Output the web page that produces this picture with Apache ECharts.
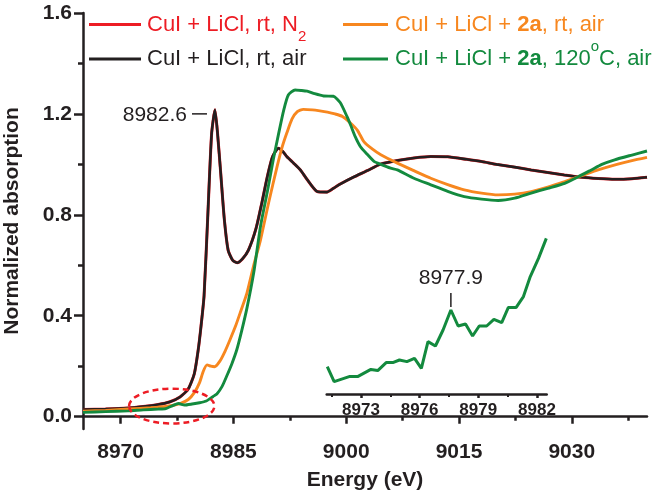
<!DOCTYPE html>
<html><head><meta charset="utf-8">
<script src="https://cdn.jsdelivr.net/npm/echarts@6/dist/echarts.min.js"></script>
<style>html,body{margin:0;padding:0;background:#fff}#c{width:660px;height:493px}</style>
</head><body><div id="c"></div>
<script>
// ---- data ----
const blackE = [8965,8968,8971,8973,8975,8976.5,8977.9,8979.0,8979.8,8980.3,8980.7,8981.1,8981.6,8982.1,8982.55,8982.9,8983.3,8983.8,8984.3,8984.9,8985.5,8986.2,8987.0,8988.0,8988.8,8989.5,8990.2,8991.0,8991.6,8992.1,8993.0,8993.9,8994.8,8996.1,8997.4,8998.3,8999.2,9001,9002.8,9004.5,9006.8,9009,9011.25,9013.5,9016,9018,9020,9022.4,9024.6,9026.8,9029,9031.3,9033.5,9035.7,9038,9040];
const blackV = [0.028,0.030,0.034,0.040,0.048,0.058,0.078,0.11,0.17,0.26,0.36,0.48,0.80,1.12,1.216,1.12,0.97,0.78,0.66,0.62,0.61,0.625,0.66,0.745,0.85,0.95,1.03,1.064,1.05,1.031,1.005,0.978,0.94,0.893,0.89,0.905,0.922,0.95,0.975,1.0,1.015,1.025,1.031,1.03,1.02,1.011,1.0,0.989,0.978,0.968,0.958,0.949,0.944,0.941,0.943,0.949];
const redE = blackE.slice();
const redV = blackV.slice();
const orangeE = [8965,8968,8971,8974,8976,8977.9,8979,8979.8,8980.5,8981.0,8981.5,8982.0,8982.5,8983.2,8983.9,8984.55,8985.3,8986,8986.8,8987.7,8988.6,8989.7,8990.8,8991.5,8992.1,8992.8,8993.5,8994.3,8995.5,8996.5,8997.5,8998.5,8999.5,9000.6,9001.5,9002.35,9003.5,9004.6,9006.8,9009,9011.25,9013.5,9015.7,9018,9020.2,9022.4,9024.6,9026.8,9029.05,9031.3,9033.5,9036,9038,9040];
const orangeV = [0.022,0.025,0.030,0.035,0.040,0.052,0.068,0.095,0.135,0.18,0.205,0.20,0.198,0.22,0.26,0.305,0.36,0.42,0.49,0.60,0.70,0.85,0.99,1.07,1.124,1.18,1.209,1.218,1.216,1.212,1.207,1.20,1.19,1.163,1.135,1.09,1.06,1.038,1.005,0.975,0.945,0.92,0.899,0.886,0.879,0.882,0.892,0.91,0.932,0.955,0.978,1.0,1.015,1.028];
const greenE = [8965,8968,8971,8973,8975,8976,8977.0,8977.7,8978.5,8979.5,8980.5,8981.4,8982.3,8982.8,8983.5,8984.1,8984.8,8985.45,8986.1,8986.8,8987.7,8988.6,8989.5,8990.3,8991.0,8991.7,8992.3,8993.2,8994.0,8994.8,8995.8,8997.0,8998.3,8999.2,9000.1,9000.6,9001.2,9001.9,9002.8,9003.7,9004.6,9005.9,9006.8,9009,9011.25,9013.5,9015.7,9018,9020.2,9022.4,9024.6,9026.8,9029.05,9030.8,9032.6,9034,9035.7,9038,9040];
const greenV = [0.017,0.020,0.023,0.027,0.030,0.032,0.045,0.052,0.046,0.05,0.055,0.062,0.08,0.09,0.12,0.16,0.21,0.265,0.34,0.43,0.57,0.754,0.89,1.018,1.12,1.216,1.275,1.295,1.293,1.29,1.28,1.271,1.27,1.245,1.19,1.155,1.11,1.07,1.04,1.012,1.0,0.985,0.978,0.945,0.919,0.893,0.872,0.862,0.857,0.866,0.886,0.905,0.925,0.95,0.978,1.0,1.018,1.037,1.053];
const insetE = [8971.28,8971.63,8972.40,8972.83,8973.51,8973.86,8974.29,8974.63,8974.97,8975.35,8975.74,8976.09,8976.43,8976.81,8977.2,8977.6,8977.97,8978.35,8978.71,8979.05,8979.43,8979.8,8980.2,8980.54,8980.94,8981.31,8981.66,8982.08,8982.48];
const insetV = [0.0237,0.0162,0.0187,0.0187,0.0223,0.0217,0.0257,0.0257,0.027,0.0262,0.0278,0.0228,0.0362,0.034,0.042,0.052,0.044,0.045,0.039,0.044,0.044,0.0473,0.0457,0.0533,0.0533,0.0587,0.0687,0.0778,0.0878];
const xMajorTicks = [8970,8985,9000,9015,9030];
const xMinorTicks = [8977.5,8992.5,9007.5,9022.5,9037.5];
const yMajorTicks = [0,0.4,0.8,1.2,1.6];
const yMinorTicks = [0.2,0.6,1.0,1.4];
const insetMajorTicks = [8973,8976,8979,8982];
const insetMinorTicks = [8971.5,8974.5,8977.5,8980.5];
const mainPeak = [8982.55,1.216];
const mainPeakLabel = '8982.6';
const insetPeak = [8977.6,0.052];
const insetPeakLabel = '8977.9';
const ellipseCenter = [8976.8,0.042];
const ellipseRadius = [5.67,0.069];

const C_RED='#ed1c24', C_BLACK='#231f20', C_ORANGE='#f7871f', C_GREEN='#138a3e';
const FONT='Arial, "Liberation Sans", Helvetica, sans-serif';
const zip=(a,b)=>a.map((v,i)=>[v,b[i]]);

const chart = echarts.init(document.getElementById('c'), null, {renderer:'canvas'});
const axisLine = {show:true, lineStyle:{color:C_BLACK, width:2.5}};
const option = {
  animation:false,
  backgroundColor:'#fff',
  grid:[
    {left:83, right:13, top:13, bottom:64, containLabel:false, outerBoundsMode:'none'},
    {left:326.7, right:113.3, top:214, bottom:99, containLabel:false, outerBoundsMode:'none'}
  ],
  xAxis:[
    {gridIndex:0, type:'value', min:8965, max:9040, axisLine:axisLine, splitLine:{show:false},
     axisTick:{show:true, customValues:xMajorTicks, length:7, lineStyle:{width:2.5,color:C_BLACK}},
     axisLabel:{show:true, customValues:xMajorTicks, formatter:v=>String(v), fontFamily:FONT, fontWeight:'bold', fontSize:21, color:C_BLACK, margin:13},
     name:'Energy (eV)', nameLocation:'middle', nameGap:41,
     nameTextStyle:{fontFamily:FONT, fontWeight:'bold', fontSize:21, color:C_BLACK}},
    {gridIndex:0, type:'value', position:'bottom', min:8965, max:9040, axisLine:{show:false}, splitLine:{show:false},
     axisTick:{show:true, customValues:xMinorTicks, length:4, lineStyle:{width:2.5,color:C_BLACK}},
     axisLabel:{show:false}},
    {gridIndex:1, type:'value', min:8971.25, max:8982.5, axisLine:axisLine, splitLine:{show:false},
     axisTick:{show:true, customValues:insetMajorTicks, length:4, lineStyle:{width:2.5,color:C_BLACK}},
     axisLabel:{show:true, customValues:insetMajorTicks, formatter:v=>String(v), fontFamily:FONT, fontWeight:'bold', fontSize:17, color:C_BLACK, margin:8}},
    {gridIndex:1, type:'value', position:'bottom', min:8971.25, max:8982.5, axisLine:{show:false}, splitLine:{show:false},
     axisTick:{show:true, customValues:insetMinorTicks, length:3, lineStyle:{width:2,color:C_BLACK}},
     axisLabel:{show:false}}
  ],
  yAxis:[
    {gridIndex:0, type:'value', min:-0.049, max:1.6, axisLine:axisLine, splitLine:{show:false},
     axisTick:{show:true, customValues:yMajorTicks, length:9, lineStyle:{width:2.5,color:C_BLACK}},
     axisLabel:{show:true, customValues:yMajorTicks, formatter:v=>v.toFixed(1), fontFamily:FONT, fontWeight:'bold', fontSize:21, color:C_BLACK, margin:11},
     name:'Normalized absorption', nameLocation:'middle', nameGap:60,
     nameTextStyle:{fontFamily:FONT, fontWeight:'bold', fontSize:21, color:C_BLACK}},
    {gridIndex:0, type:'value', position:'left', min:-0.049, max:1.6, axisLine:{show:false}, splitLine:{show:false},
     axisTick:{show:true, customValues:yMinorTicks, length:5, lineStyle:{width:2.5,color:C_BLACK}},
     axisLabel:{show:false}},
    {gridIndex:1, type:'value', min:0.01, max:0.10, show:false}
  ],
  series:[
    {type:'line', name:'red', xAxisIndex:0, yAxisIndex:0, data:zip(redE,redV), showSymbol:false, smooth:0.2, lineStyle:{color:C_RED,width:3.0}, z:2},
    {type:'line', name:'black', xAxisIndex:0, yAxisIndex:0, data:zip(blackE,blackV), showSymbol:false, smooth:0.2, lineStyle:{color:C_BLACK,width:2.6}, z:3},
    {type:'line', name:'orange', xAxisIndex:0, yAxisIndex:0, data:zip(orangeE,orangeV), showSymbol:false, smooth:0.2, lineStyle:{color:C_ORANGE,width:2.9}, z:4},
    {type:'line', name:'green', xAxisIndex:0, yAxisIndex:0, data:zip(greenE,greenV), showSymbol:false, smooth:0.2, lineStyle:{color:C_GREEN,width:2.9}, z:5},
    {type:'line', name:'inset', xAxisIndex:2, yAxisIndex:2, data:zip(insetE,insetV), showSymbol:false, smooth:false, lineStyle:{color:C_GREEN,width:3}, z:5}
  ]
};
chart.setOption(option);

const p = (pt, xi, yi) => chart.convertToPixel({xAxisIndex:xi, yAxisIndex:yi}, pt);
const pk = p(mainPeak,0,0);
const ipk = p(insetPeak,2,2);
const ec = p(ellipseCenter,0,0);
const ee = p([ellipseCenter[0]+ellipseRadius[0], ellipseCenter[1]+ellipseRadius[1]],0,0);

function legendLine(x1,x2,y,color){
  return {type:'line', shape:{x1:x1,y1:y,x2:x2,y2:y}, style:{stroke:color, lineWidth:3}, z:10};
}
function legendText(x,y,text,color,rich){
  return {type:'text', x:x, y:y, z:10, style:{text:text, fill:color, fontFamily:FONT, fontSize:22, verticalAlign:'middle', align:'left', lineHeight:40, rich:rich}};
}
const richCommon = (color)=>({
  n:{fontFamily:FONT,fontSize:22,fill:color,lineHeight:40},
  b:{fontFamily:FONT,fontSize:22,fontWeight:'bold',fill:color,lineHeight:40},
  sub:{fontFamily:FONT,fontSize:15,fill:color,lineHeight:15,verticalAlign:'bottom'},
  sup:{fontFamily:FONT,fontSize:15,fill:color,lineHeight:26,verticalAlign:'top'}
});

chart.setOption({graphic:[
  legendLine(89,141,24.5,C_RED),
  legendText(147,24.5,'{n|CuI + LiCl, rt, N}{sub|2}',C_RED,richCommon(C_RED)),
  legendLine(89,141,59,C_BLACK),
  legendText(147,59,'{n|CuI + LiCl, rt, air}',C_BLACK,richCommon(C_BLACK)),
  legendLine(343,388,24.5,C_ORANGE),
  legendText(395,24.5,'{n|CuI + LiCl + }{b|2a}{n|, rt, air}',C_ORANGE,richCommon(C_ORANGE)),
  legendLine(343,388,59,C_GREEN),
  legendText(395,59,'{n|CuI + LiCl + }{b|2a}{n|, 120}{sup|o}{n|C, air}',C_GREEN,richCommon(C_GREEN)),
  // peak annotation
  {type:'line', shape:{x1:pk[0]-23,y1:pk[1]+4,x2:pk[0]-8,y2:pk[1]+4}, style:{stroke:C_BLACK,lineWidth:1.5}, z:10},
  {type:'text', x:pk[0]-28, y:pk[1]+5, z:10, style:{text:mainPeakLabel, fill:C_BLACK, fontFamily:FONT, fontSize:21, align:'right', verticalAlign:'middle'}},
  // inset peak annotation
  {type:'line', shape:{x1:ipk[0],y1:ipk[1]-17,x2:ipk[0],y2:ipk[1]-3}, style:{stroke:C_BLACK,lineWidth:1.5}, z:10},
  {type:'text', x:ipk[0], y:ipk[1]-32, z:10, style:{text:insetPeakLabel, fill:C_BLACK, fontFamily:FONT, fontSize:21, align:'center', verticalAlign:'middle'}},
  // dashed ellipse
  {type:'ellipse', shape:{cx:ec[0], cy:ec[1], rx:Math.abs(ee[0]-ec[0]), ry:Math.abs(ee[1]-ec[1])}, style:{fill:null, stroke:C_RED, lineWidth:2.5, lineDash:[6,4]}, z:10}
]});
</script></body></html>
